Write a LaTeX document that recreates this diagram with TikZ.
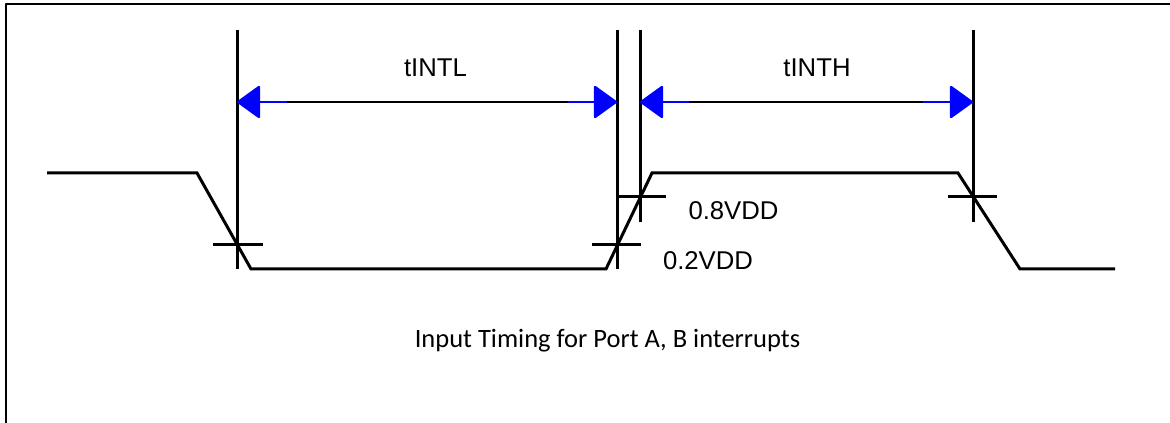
\documentclass[tikz,border=0pt]{standalone}
\usepackage{fontspec}
\setmainfont{Liberation Sans}
\newfontfamily\captionfont{Carlito}
\usetikzlibrary{arrows.meta}
\tikzset{
  wave/.style={line width=3bp, line join=miter},
  marker/.style={line width=3bp},
  dimline/.style={line width=2.4bp},
  dimtip/.style={line width=2.4bp, blue, -{Triangle[length=24bp,width=34bp,round]}},
  lbl/.style={font=\fontsize{25.8}{30}\selectfont, anchor=base, inner sep=0pt},
}
\begin{document}
\begin{tikzpicture}[>=latex,line join=bevel,]
  \pgfsetlinewidth{1bp}
  \useasboundingbox (0bp,0bp) rectangle (1170bp,423bp);
%%
  % Frame
  \draw [line width=2.6bp] (6bp,0bp) -- (6bp,419bp) -- (1170bp,419bp);
  % Signal corners
  \coordinate (s0) at (47bp,250bp);
  \coordinate (s1) at (197bp,250bp);
  \coordinate (s2) at (251bp,154bp);
  \coordinate (s3) at (606bp,154bp);
  \coordinate (s4) at (652bp,250bp);
  \coordinate (s5) at (958bp,250bp);
  \coordinate (s6) at (1020bp,154bp);
  \coordinate (s7) at (1115bp,154bp);
  % Edge: s0 -> s7
  \draw [wave] (s0) -- (s1) -- (s2) -- (s3) -- (s4) -- (s5) -- (s6) -- (s7);
  % Threshold crossings
  \coordinate (fallL) at (237bp,178bp);
  \coordinate (riseL) at (617bp,178bp);
  \coordinate (riseH) at (640bp,226bp);
  \coordinate (fallH) at (973bp,226bp);
  % Marker lines
  \draw [marker] (237bp,393bp) -- (237bp,154bp);
  \draw [marker] (617bp,393bp) -- (617bp,154bp);
  \draw [marker] (640bp,393bp) -- (640bp,201bp);
  \draw [marker] (973bp,393bp) -- (973bp,201bp);
  \draw [marker] ([xshift=-24bp]fallL) -- ([xshift=26bp]fallL);
  \draw [marker] ([xshift=-25bp]riseL) -- ([xshift=24bp]riseL);
  \draw [marker] ([xshift=-23bp]riseH) -- ([xshift=26bp]riseH);
  \draw [marker] ([xshift=-25bp]fallH) -- ([xshift=24bp]fallH);
  % Edge: tintl
  \coordinate (tl1) at (237bp,321bp);
  \coordinate (tl2) at (617bp,321bp);
  \draw [dimline] (tl1) -- (tl2);
  \draw [dimtip] ([xshift=50bp]tl1) -- (tl1);
  \draw [dimtip] ([xshift=-49bp]tl2) -- (tl2);
  % Edge: tinth
  \coordinate (th1) at (640bp,321bp);
  \coordinate (th2) at (973bp,321bp);
  \draw [dimline] (th1) -- (th2);
  \draw [dimtip] ([xshift=49bp]th1) -- (th1);
  \draw [dimtip] ([xshift=-50bp]th2) -- (th2);
  % Node: labels
  \node [lbl] (tintl) at (435.5bp,346bp) {tINTL};
  \node [lbl] (tinth) at (817bp,346bp) {tINTH};
  \node [lbl] (vhigh) at (733.5bp,203bp) {0.8VDD};
  \node [lbl] (vlow) at (708bp,153bp) {0.2VDD};
  \node [lbl, font=\captionfont\fontsize{26.6}{30}\selectfont] (caption) at (607.5bp,75bp) {Input Timing for Port A, B interrupts};
%
\end{tikzpicture}
\end{document}
